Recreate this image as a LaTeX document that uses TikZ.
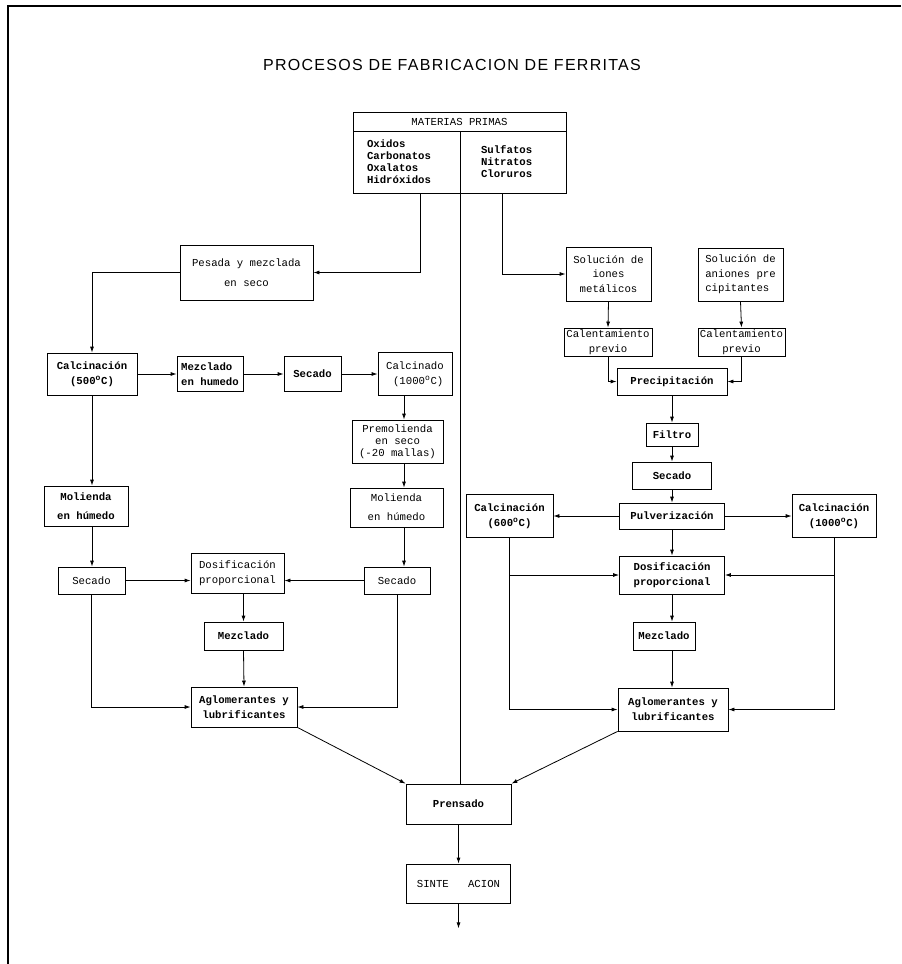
\documentclass[tikz,border=0pt]{standalone}
\usepackage{fontspec}
\setmonofont{Liberation Mono}
\newfontfamily\titlefont[LetterSpace=8]{Liberation Sans}
\usetikzlibrary{arrows.meta,calc}

\newcommand{\boxfont}{\ttfamily\fontsize{8}{11}\selectfont}
\newcommand{\listfont}{\ttfamily\fontsize{8}{9}\selectfont}
\tikzstyle{procbox}=[draw, line width=0.6pt, inner sep=1pt, align=center, font=\boxfont]
\tikzstyle{inkbox}=[procbox, font=\boxfont\bfseries]
\tikzstyle{flow}=[line width=0.6pt, -{Latex[length=4.5pt,width=3pt]}]
\tikzstyle{wire}=[line width=0.6pt]
\tikzset{boxsize/.style 2 args={minimum width=#1*0.75pt, minimum height=#2*0.75pt}}

\begin{document}
\begin{tikzpicture}[x=0.75pt, y=-0.75pt]
    \useasboundingbox (0,0) rectangle (901,964);
    \draw[line width=0.8pt] (8,964) -- (8,6) -- (901,6);
    \node (title) at (452,65) {\titlefont\fontsize{12}{14}\selectfont PROCESOS DE FABRICACION DE FERRITAS};

    % materias primas
    \node (mpHead) [procbox, boxsize={213}{19}] at (459.5,121.5) {MATERIAS PRIMAS};
    \node (mpLeft) [procbox, boxsize={107}{62}, align=left, font=\listfont\bfseries,
        text width=59.25pt, inner xsep=10.5pt] at (406.5,162) {Oxidos\\Carbonatos\\Oxalatos\\Hidróxidos};
    \node (mpRight) [procbox, boxsize={106}{62}, align=left, font=\listfont\bfseries,
        text width=48pt, inner xsep=15.75pt] at (513,162) {Sulfatos\\Nitratos\\Cloruros};
    \coordinate (tapL) at ($(mpLeft.south)!0.25!(mpLeft.south east)$);
    \coordinate (tapR) at ($(mpRight.south west)!0.8!(mpRight.south)$);

    % via seca
    \node (pesada) [procbox, boxsize={133}{55}] at (246.5,272.5) {Pesada y mezclada\\[4pt]en seco};
    \node (calA) [inkbox, boxsize={90}{42}] at (92,374) {Calcinación\\(500\textsuperscript{o}C)};
    \node (mezH) [inkbox, boxsize={66}{35}, align=left] at (210,374) {Mezclado\\en humedo};
    \node (secA) [inkbox, boxsize={57}{35}] at (312.5,374) {Secado};
    \node (calB) [procbox, boxsize={74}{43}] at (415,374) {Calcinado\\\ (1000\textsuperscript{o}C)};
    \node (premol) [procbox, boxsize={91}{43}, font=\listfont] at (397.5,441.5) {Premolienda\\en seco\\(-20 mallas)};
    \node (molA) [inkbox, boxsize={84}{40}] at (86,506) {Molienda\\[3pt]en húmedo};
    \node (molB) [procbox, boxsize={93}{39}] at (396.5,507.5) {Molienda\\[3pt]en húmedo};
    \node (secB) [procbox, boxsize={67}{27}] at (91.5,580.5) {Secado};
    \node (dosA) [procbox, boxsize={93}{40}] at (237.5,573) {Dosificación\\proporcional};
    \node (secC) [procbox, boxsize={66}{27}] at (397,580.5) {Secado};
    \node (mezA) [inkbox, boxsize={79}{28}] at (243.5,636) {Mezclado};
    \node (aglA) [inkbox, boxsize={106}{40}] at (244,707) {Aglomerantes y\\lubrificantes};
    \coordinate (railB) at (404,400);

    % via humeda
    \node (solI) [procbox, boxsize={85}{54}] at (608.5,274) {Solución de\\iones\\metálicos};
    \node (solA) [procbox, boxsize={85}{53}, align=left] at (740.5,274.5) {Solución de\\aniones pre\\cipitantes};
    \node (calI) [procbox, boxsize={88}{28}] at (608,342) {Calentamiento\\previo};
    \node (calN) [procbox, boxsize={87}{28}] at (741.5,342) {Calentamiento\\previo};
    \node (precip) [inkbox, boxsize={110}{27}] at (672,381.5) {Precipitación};
    \node (filtro) [inkbox, boxsize={52}{23}] at (672,434.5) {Filtro};
    \node (secD) [inkbox, boxsize={79}{27}] at (672,475.5) {Secado};
    \node (pulv) [inkbox, boxsize={105}{26}] at (672,516) {Pulverización};
    \node (cal6) [inkbox, boxsize={87}{43}] at (509.5,516) {Calcinación\\(600\textsuperscript{o}C)};
    \node (cal10) [inkbox, boxsize={84}{43}] at (834,516) {Calcinación\\(1000\textsuperscript{o}C)};
    \node (dosB) [inkbox, boxsize={105}{38}] at (672,575) {Dosificación\\proporcional};
    \node (mezB) [inkbox, boxsize={62}{28}] at (664,636) {Mezclado};
    \node (aglB) [inkbox, boxsize={110}{43}] at (673,709.5) {Aglomerantes y\\lubrificantes};

    % final
    \node (prensado) [inkbox, boxsize={105}{40}] at (458.5,804) {Prensado};
    \node (sinter) [procbox, boxsize={104}{39}] at (458.5,883.5) {SINTE~~~ACION};
    \coordinate (fin) at ($(sinter.south)+(0,25)$);

    % conexiones via seca
    \draw[flow] (tapL) |- (pesada.east);
    \draw[flow] (pesada.west) -| (calA.north);
    \draw[flow] (calA.east) -- (mezH.west);
    \draw[flow] (mezH.east) -- (secA.west);
    \draw[flow] (secA.east) -- (calB.west);
    \draw[flow] (railB |- calB.south) -- (railB |- premol.north);
    \draw[flow] (railB |- premol.south) -- (railB |- molB.north);
    \draw[flow] (railB |- molB.south) -- (railB |- secC.north);
    \draw[flow] (calA.south) -- (calA.south |- molA.north);
    \draw[flow] (calA.south |- molA.south) -- (calA.south |- secB.north);
    \draw[flow] (secB.south) |- (aglA.west);
    \draw[flow] (secB.east) -- (secB.east -| dosA.west);
    \draw[flow] (secC.west) -- (secC.west -| dosA.east);
    \draw[flow] (secC.south) |- (aglA.east);
    \draw[flow] (mezA.north |- dosA.south) -- (mezA.north);
    \draw[flow] (mezA.south) -- (aglA.north);

    % conexiones via humeda
    \draw[flow] (tapR) |- (solI.west);
    \draw[flow] (solI.south) -- (calI.north);
    \draw[flow] (solA.south) -- (calN.north);
    \draw[flow] (calI.south) |- (precip.west);
    \draw[flow] (calN.south) |- (precip.east);
    \draw[flow] (precip.south) -- (filtro.north);
    \draw[flow] (filtro.south) -- (secD.north);
    \draw[flow] (secD.south) -- (pulv.north);
    \draw[flow] (pulv.west) -- (cal6.east);
    \draw[flow] (pulv.east) -- (cal10.west);
    \draw[flow] (pulv.south) -- (dosB.north);
    \draw[flow] (cal6.south) |- (aglB.west);
    \draw[flow] (cal6.south |- dosB.west) -- (dosB.west);
    \draw[flow] (cal10.south) |- (aglB.east);
    \draw[flow] (cal10.south |- dosB.east) -- (dosB.east);
    \draw[flow] (dosB.south) -- (dosB.south |- mezB.north);
    \draw[flow] (dosB.south |- mezB.south) -- (dosB.south |- aglB.north);

    % prensado y sinterizado
    \draw[wire] (mpLeft.south east) -- (mpLeft.south east |- prensado.north);
    \draw[flow] (aglA.south east) -- (prensado.north west);
    \draw[flow] (aglB.south west) -- (prensado.north east);
    \draw[flow] (prensado.south) -- (sinter.north);
    \draw[flow] (sinter.south) -- (fin);
\end{tikzpicture}
\end{document}
